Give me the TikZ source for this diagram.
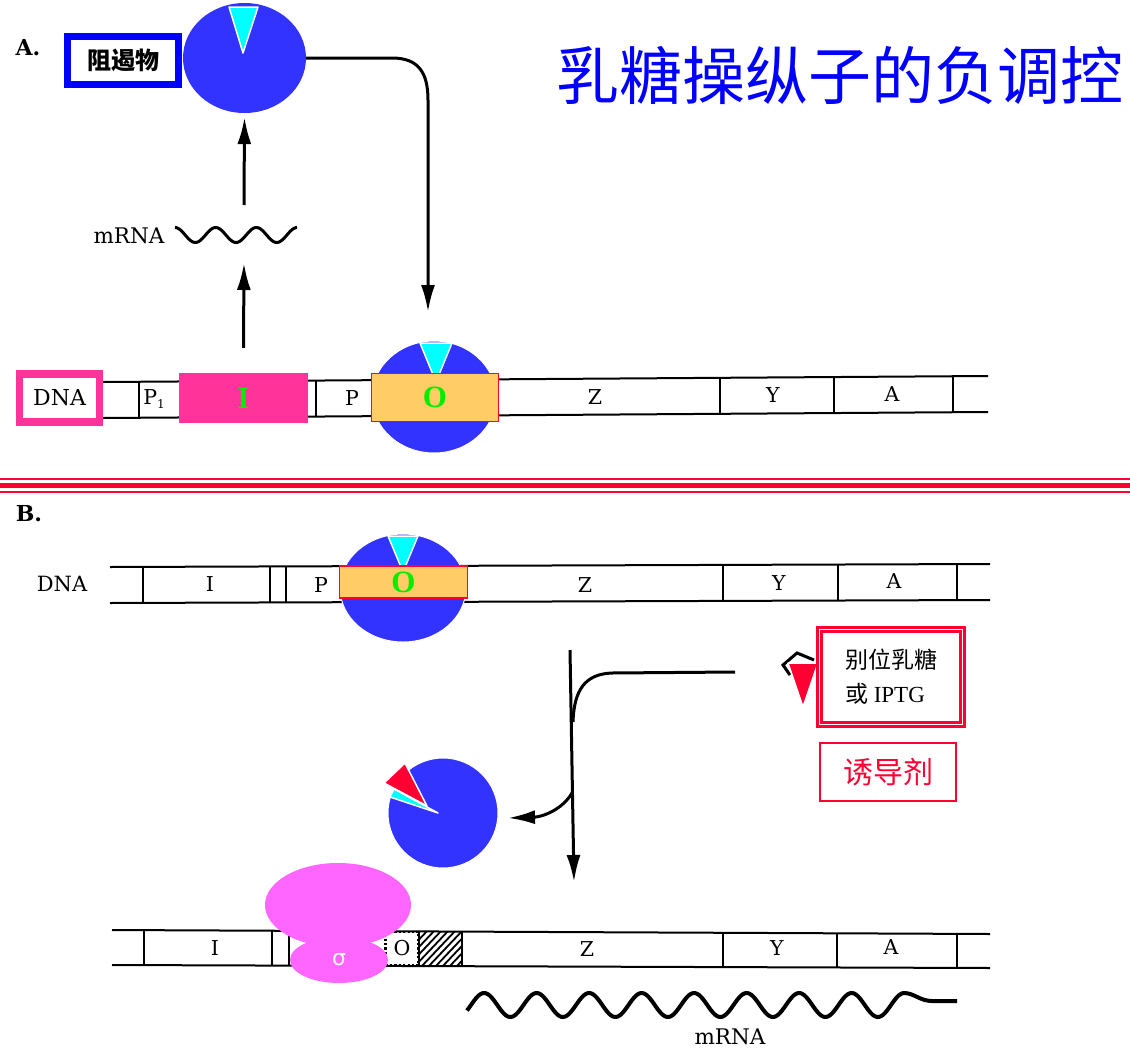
\documentclass[tikz,border=0pt]{standalone}
\usepackage{fontspec}
\setmainfont{Liberation Serif}
\newfontfamily\cjk{Noto Sans CJK SC}
\newfontfamily\greeksans{DejaVu Sans}
\newfontfamily\labelfont{DejaVu Serif}
\usetikzlibrary{arrows.meta,shapes.geometric}

\definecolor{repblue}{HTML}{3333FF}
\definecolor{wedgecyan}{HTML}{00FFFF}
\definecolor{genepink}{HTML}{FF3399}
\definecolor{oporange}{HTML}{FFCC66}
\definecolor{alertred}{HTML}{FF0033}
\definecolor{polpink}{HTML}{FF66FF}
\definecolor{labelgreen}{HTML}{00EE00}
\definecolor{titleblue}{HTML}{0000FF}

\tikzset{
  strand/.style={line width=2pt},
  divider/.style={line width=1.8pt},
  genelabel/.style={font=\labelfont\fontsize{20.5}{24}\selectfont, inner sep=0pt},
  flow/.style={line width=3pt, -{Latex[length=27pt,width=14pt]}},
  stroke/.style={line width=3pt},
  protein/.style={ellipse, fill=repblue, inner sep=0pt},
  wedge/.style={fill=wedgecyan, draw=white, line width=1.5pt, line join=round},
  bigletter/.style={font=\fontsize{31}{32}\selectfont\bfseries, text=labelgreen},
  redrule/.style={alertred},
}

\begin{document}
\begin{tikzpicture}[x=1pt,y=-1pt]
\useasboundingbox (0,0) rectangle (1130,1052);
\fill[white] (0,0) rectangle (1130,1052);

% ---------- heading
\node[font=\cjk\fontsize{63}{66}\selectfont, text=titleblue, inner sep=0pt] (title) at (840,75) {乳糖操纵子的负调控};

\node[font=\labelfont\fontsize{22}{24}\selectfont\bfseries, inner sep=0pt] (labA) at (28,48) {A.};
\node[font=\labelfont\fontsize{22}{24}\selectfont\bfseries, inner sep=0pt] (labB) at (29,514) {B.};

% ---------- panel A: DNA strand
\draw[strand] (103,382) -- (988,376);
\draw[strand] (103,418) -- (988,412);
\foreach \x/\t/\b in {139/381.8/417.8, 316/380.6/416.6, 720/377.8/413.8, 834/377/413, 953/376.2/412.2}
  \draw[divider] (\x,\t) -- (\x,\b);
\node[genelabel] (p1A) at (154,399) {P\raisebox{-0.35ex}{\fontsize{12}{12}\selectfont 1}};
\node[genelabel] (pA) at (352,398) {P};
\node[genelabel] (zA) at (595,397) {Z};
\node[genelabel] (yA) at (773,395) {Y};
\node[genelabel] (aA) at (892,394) {A};

\node[draw=genepink, line width=7.5pt, fill=white, minimum width=80pt, minimum height=48pt,
      inner sep=0pt, font=\labelfont\fontsize{22}{24}\selectfont] (dnaA) at (59.5,398) {DNA};
\node[fill=genepink, minimum width=129pt, minimum height=50pt, inner sep=0pt, bigletter] (geneI) at (243.5,398) {I};

% repressor sitting on the operator
\node[protein, draw=white, line width=1pt, minimum width=124pt, minimum height=112pt] (repOpA) at (434,397) {};
\fill[wedge] (420,343) -- (452,343) -- (436,382) -- cycle;
\node[draw=alertred, line width=1.8pt, fill=oporange, minimum width=127pt, minimum height=48pt,
      inner sep=0pt, bigletter] (opA) at (435,397.5) {O};

% free repressor
\node[protein, minimum width=123pt, minimum height=110pt] (repA) at (244.5,58) {};
\fill[wedge] (229,7) -- (258,7) -- (243,53) -- cycle;
\node[draw=titleblue, line width=7pt, fill=white, minimum width=111pt, minimum height=48pt, inner sep=0pt,
      font=\cjk\bfseries\fontsize{24}{26}\selectfont] (repLabel) at (123,60.5) {阻遏物};

% transcript of I and arrows
\draw[stroke, domain=175:297, samples=90, smooth, variable=\x]
  plot (\x,{235-7.5*cos(8.845*(\x-175))});
\node[genelabel, font=\labelfont\fontsize{21.5}{24}\selectfont] (mrnaA) at (129,236) {mRNA};
\coordinate (waveAlo) at (244,263);
\coordinate (waveAhi) at (244,205);
\coordinate (aimA) at (428,312);
\draw[flow] ([yshift=25pt]geneI.north) -- (waveAlo);
\draw[flow] (waveAhi) -- ([yshift=-4pt]repA.south);
\draw[flow] (repA.east) -- (392,58) .. controls (418,58) and (428,72) .. (428,100) -- (aimA);

% ---------- separator
\draw[redrule, line width=2.5pt] (0,479) -- (1130,479);
\draw[redrule, line width=5pt] (0,485.5) -- (1130,485.5);
\draw[redrule, line width=2.5pt] (0,492) -- (1130,492);

% ---------- panel B: repressed DNA
\draw[strand] (110,567) -- (990,564);
\draw[strand] (110,603) -- (990,600);
\foreach \x/\t/\b in {143/567/603, 270/566.6/602.6, 286/566.4/602.4, 723/564.9/600.9, 838/564.5/600.5, 957/564.1/600.1}
  \draw[divider] (\x,\t) -- (\x,\b);
\node[font=\labelfont\fontsize{21}{24}\selectfont, inner sep=0pt] (dnaB) at (62,584) {DNA};
\node[genelabel] (iB) at (210,584) {I};
\node[genelabel] (pB) at (321,585) {P};
\node[genelabel] (zB) at (585,585) {Z};
\node[genelabel] (yB) at (779,583) {Y};
\node[genelabel] (aB) at (894,581) {A};

\node[protein, draw=white, line width=1pt, minimum width=126pt, minimum height=108pt] (repOpB) at (403,588) {};
\fill[wedge] (388,536) -- (418,536) -- (403,572) -- cycle;
\node[draw=alertred, line width=1.8pt, fill=oporange, minimum width=128pt, minimum height=32pt,
      inner sep=0pt, bigletter] (opB) at (403.5,582) {O};

% inducer
\draw[line width=3pt, line join=miter] (790,675) -- (783,665) -- (797,653) -- (814,660);
\fill[fill=alertred, draw=white, line width=1.5pt, line join=round] (788,663) -- (818,663) -- (803,707) -- cycle;
\node[draw=alertred, line width=2.5pt, double=white, double distance=1.8pt, minimum width=143pt, minimum height=95pt,
      inner sep=0pt, align=left, font=\fontsize{23}{34}\selectfont] (inducer) at (891,677)
      {{\cjk 别位乳糖}\\{\cjk 或} IPTG};
\node[draw=alertred, line width=2.5pt, minimum width=136pt, minimum height=58pt, inner sep=0pt,
      text=alertred, font=\cjk\fontsize{30}{32}\selectfont] (inducerTag) at (888,772) {诱导剂};

% repressor carrying the inducer
\node[circle, fill=repblue, draw=white, line width=1pt, minimum size=110pt, inner sep=0pt] (repInd) at (443,813) {};
\fill[wedge] (438,813) -- (390,797) -- (394,789) -- cycle;
\fill[fill=alertred, draw=white, line width=1.5pt, line join=round] (384,783) -- (405,763) -- (427,806) -- cycle;

% induction arrows
\coordinate (bend) at (735,672);
\coordinate (splitTop) at (570,650);
\coordinate (toDNA) at (574,882);
\coordinate (fork) at (572,793);
\coordinate (release) at (508,818);
\draw[stroke] (bend) -- (612,673) .. controls (585,674) and (574,690) .. (573,722);
\draw[flow] (splitTop) -- (toDNA);
\draw[flow] (fork) .. controls (562,810) and (542,817) .. (release);

% ---------- panel B: transcribed DNA
\draw[strand] (112,930) -- (990,934);
\draw[strand] (112,965) -- (990,968);
\begin{scope}
  \clip (419,931.5) rectangle (462,966);
  \foreach \i in {378,385,...,470}
    \draw[line width=1.8pt] (\i,968) -- (\i+37,929);
\end{scope}
\foreach \x/\t/\b in {144/930.1/965.1, 272/930.7/965.5, 289/930.8/965.6, 419/931.4/966, 462/931.6/966.2, 723/932.8/967.1, 837/933.3/967.5, 957/933.9/967.9}
  \draw[divider] (\x,\t) -- (\x,\b);
\node[draw, line width=2.2pt, dash pattern=on 2.2pt off 2.2pt, minimum width=33pt, minimum height=33pt,
      inner sep=0pt, genelabel] (opC) at (402,948.5) {O};
\node[genelabel] (iC) at (215,948) {I};
\node[genelabel] (zC) at (587,949) {Z};
\node[genelabel] (yC) at (777,948) {Y};
\node[genelabel] (aC) at (891,947) {A};

% RNA polymerase with sigma factor
\node[ellipse, fill=polpink, minimum width=146pt, minimum height=84pt, inner sep=0pt] (core) at (338,905) {};
\node[ellipse, fill=polpink, minimum width=98pt, minimum height=46pt, inner sep=0pt, text=white,
      font=\greeksans\fontsize{22}{24}\selectfont] (sigma) at (339,960) {σ};

% lac mRNA
\draw[line width=4pt, domain=467:904, samples=250, smooth, variable=\x]
  plot (\x,{1005-12*sin(6.857*(\x-471))}) .. controls (914,993) and (920,1001) .. (932,1001) -- (957,1001);
\node[genelabel, font=\labelfont\fontsize{21.5}{24}\selectfont] (mrnaB) at (730,1037) {mRNA};

\end{tikzpicture}
\end{document}
